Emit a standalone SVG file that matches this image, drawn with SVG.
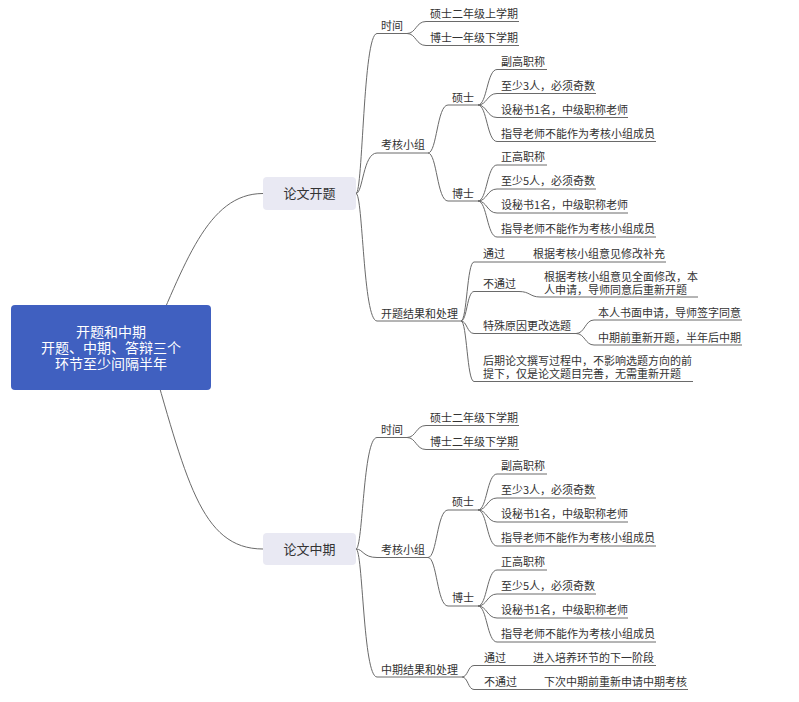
<svg xmlns="http://www.w3.org/2000/svg" width="799" height="702" viewBox="0 0 799 702">
<style>
text{font-family:"Noto Sans CJK SC","Noto Sans",sans-serif;fill:#333;font-size:11px}
.root{fill:#4060c0}
.rt{fill:#fff;font-size:14px;text-anchor:middle}
.box{fill:#e9e9f3}
.bt{font-size:13px;text-anchor:middle}
.ul,.c{stroke:#6a6a6a;stroke-width:1;fill:none}
</style>
<rect width="799" height="702" fill="#fff"/>
<g id="connectors" class="c">
<path d="M148,347.5 C185,264.5 207,193.5 263,193.5"/>
<path d="M148,347.5 C186,477.5 200,549 263,549"/>
<path d="M356,193.5 C363,193.5 363,33.5 377,33.5"/>
<path d="M356,193.5 C363,193.5 363,153 377,153"/>
<path d="M356,193.5 C363,193.5 363,321 377,321"/>
<path d="M407,33.5 C416,33.5 416,21.5 426,21.5"/>
<path d="M407,33.5 C416,33.5 416,45.5 426,45.5"/>
<path d="M428,153 C437,153 437,105 448,105"/>
<path d="M428,153 C437,153 437,201 448,201"/>
<path d="M478,105 C487,105 487,69.5 497,69.5"/>
<path d="M478,105 C487,105 487,93.5 497,93.5"/>
<path d="M478,105 C487,105 487,117.5 497,117.5"/>
<path d="M478,105 C487,105 487,141.5 497,141.5"/>
<path d="M478,201 C487,201 487,165 497,165"/>
<path d="M478,201 C487,201 487,189 497,189"/>
<path d="M478,201 C487,201 487,213 497,213"/>
<path d="M478,201 C487,201 487,237 497,237"/>
<path d="M461,321 C467,321 467,262 474,262"/>
<path d="M461,321 C467,321 467,291.5 474,291.5"/>
<path d="M461,321 C467,321 467,333.5 474,333.5"/>
<path d="M461,321 C467,321 467,381.5 474,381.5"/>
<path d="M508,262 L529,262"/>
<path d="M519,291.5 C530,291.5 530,297 540,297"/>
<path d="M576,333.5 C585,333.5 585,320 594,320"/>
<path d="M576,333.5 C585,333.5 585,345 594,345"/>
<path d="M356,549 C363,549 363,437.5 377,437.5"/>
<path d="M356,549 C363,549 363,557.5 377,557.5"/>
<path d="M356,549 C363,549 363,677 377,677"/>
<path d="M407,437.5 C416,437.5 416,425.5 426,425.5"/>
<path d="M407,437.5 C416,437.5 416,449.5 426,449.5"/>
<path d="M428,557.5 C437,557.5 437,510 448,510"/>
<path d="M428,557.5 C437,557.5 437,606 448,606"/>
<path d="M478,510 C487,510 487,474 497,474"/>
<path d="M478,510 C487,510 487,498 497,498"/>
<path d="M478,510 C487,510 487,522 497,522"/>
<path d="M478,510 C487,510 487,546 497,546"/>
<path d="M478,606 C487,606 487,570 497,570"/>
<path d="M478,606 C487,606 487,594 497,594"/>
<path d="M478,606 C487,606 487,618 497,618"/>
<path d="M478,606 C487,606 487,642 497,642"/>
<path d="M462,677 C468,677 468,665.5 474,665.5"/>
<path d="M462,677 C468,677 468,689.5 474,689.5"/>
<path d="M510,665.5 L529,665.5"/>
<path d="M520,689.5 L540,689.5"/>
</g>
<g id="root">
<rect class="root" x="11" y="305" width="200" height="85" rx="4"/>
<text class="rt" x="111" y="337">开题和中期<tspan x="111" dy="16">开题、中期、答辩三个</tspan><tspan x="111" dy="16">环节至少间隔半年</tspan></text>
</g>
<g id="kaiti">
<rect class="box" x="263" y="177" width="93" height="33" rx="4"/>
<text class="bt" x="309.5" y="198">论文开题</text>
</g>
<g id="kt-time"><text x="381" y="30">时间</text><line class="ul" x1="377" y1="33.5" x2="407" y2="33.5"/></g>
<g id="kt-time-1"><text x="430" y="17.5">硕士二年级上学期</text><line class="ul" x1="426" y1="21.5" x2="519" y2="21.5"/></g>
<g id="kt-time-2"><text x="430" y="41.5">博士一年级下学期</text><line class="ul" x1="426" y1="45.5" x2="519" y2="45.5"/></g>
<g id="kt-group"><text x="381" y="149">考核小组</text><line class="ul" x1="377" y1="153" x2="428" y2="153"/></g>
<g id="kt-ms"><text x="452" y="101.5">硕士</text><line class="ul" x1="448" y1="105" x2="478" y2="105"/></g>
<g id="kt-ms-1"><text x="501" y="65.5">副高职称</text><line class="ul" x1="497" y1="69.5" x2="547" y2="69.5"/></g>
<g id="kt-ms-2"><text x="501" y="89.5">至少3人，必须奇数</text><line class="ul" x1="497" y1="93.5" x2="596" y2="93.5"/></g>
<g id="kt-ms-3"><text x="501" y="113.5">设秘书1名，中级职称老师</text><line class="ul" x1="497" y1="117.5" x2="628" y2="117.5"/></g>
<g id="kt-ms-4"><text x="501" y="137.5">指导老师不能作为考核小组成员</text><line class="ul" x1="497" y1="141.5" x2="656" y2="141.5"/></g>
<g id="kt-phd"><text x="452" y="197.5">博士</text><line class="ul" x1="448" y1="201" x2="478" y2="201"/></g>
<g id="kt-phd-1"><text x="501" y="161">正高职称</text><line class="ul" x1="497" y1="165" x2="547" y2="165"/></g>
<g id="kt-phd-2"><text x="501" y="185">至少5人，必须奇数</text><line class="ul" x1="497" y1="189" x2="596" y2="189"/></g>
<g id="kt-phd-3"><text x="501" y="209">设秘书1名，中级职称老师</text><line class="ul" x1="497" y1="213" x2="628" y2="213"/></g>
<g id="kt-phd-4"><text x="501" y="233">指导老师不能作为考核小组成员</text><line class="ul" x1="497" y1="237" x2="656" y2="237"/></g>
<g id="kt-result"><text x="381" y="317.5">开题结果和处理</text><line class="ul" x1="377" y1="321" x2="461" y2="321"/></g>
<g id="kt-pass"><text x="483" y="258">通过</text><line class="ul" x1="474" y1="262" x2="508" y2="262"/></g>
<g id="kt-pass-1"><text x="533" y="258">根据考核小组意见修改补充</text><line class="ul" x1="529" y1="262" x2="666" y2="262"/></g>
<g id="kt-fail"><text x="483" y="287.5">不通过</text><line class="ul" x1="474" y1="291.5" x2="519" y2="291.5"/></g>
<g id="kt-fail-1"><text x="544" y="280.5">根据考核小组意见全面修改，本<tspan x="544" dy="13.5">人申请，导师同意后重新开题</tspan></text><line class="ul" x1="540" y1="297" x2="698" y2="297"/></g>
<g id="kt-change"><text x="483" y="329.5">特殊原因更改选题</text><line class="ul" x1="474" y1="333.5" x2="576" y2="333.5"/></g>
<g id="kt-change-1"><text x="598" y="316.5">本人书面申请，导师签字同意</text><line class="ul" x1="594" y1="320" x2="742" y2="320"/></g>
<g id="kt-change-2"><text x="598" y="341.5">中期前重新开题，半年后中期</text><line class="ul" x1="594" y1="345" x2="742" y2="345"/></g>
<g id="kt-later"><text x="483" y="364.5">后期论文撰写过程中，不影响选题方向的前<tspan x="483" dy="13.5">提下，仅是论文题目完善，无需重新开题</tspan></text><line class="ul" x1="474" y1="381.5" x2="693" y2="381.5"/></g>
<g id="zhongqi">
<rect class="box" x="263" y="533" width="93" height="32" rx="4"/>
<text class="bt" x="309.5" y="554">论文中期</text>
</g>
<g id="zq-time"><text x="381" y="433.5">时间</text><line class="ul" x1="377" y1="437.5" x2="407" y2="437.5"/></g>
<g id="zq-time-1"><text x="430" y="421.5">硕士二年级下学期</text><line class="ul" x1="426" y1="425.5" x2="519" y2="425.5"/></g>
<g id="zq-time-2"><text x="430" y="445.5">博士二年级下学期</text><line class="ul" x1="426" y1="449.5" x2="519" y2="449.5"/></g>
<g id="zq-group"><text x="381" y="554">考核小组</text><line class="ul" x1="377" y1="557.5" x2="428" y2="557.5"/></g>
<g id="zq-ms"><text x="452" y="506">硕士</text><line class="ul" x1="448" y1="510" x2="478" y2="510"/></g>
<g id="zq-ms-1"><text x="501" y="470">副高职称</text><line class="ul" x1="497" y1="474" x2="547" y2="474"/></g>
<g id="zq-ms-2"><text x="501" y="494">至少3人，必须奇数</text><line class="ul" x1="497" y1="498" x2="596" y2="498"/></g>
<g id="zq-ms-3"><text x="501" y="518">设秘书1名，中级职称老师</text><line class="ul" x1="497" y1="522" x2="628" y2="522"/></g>
<g id="zq-ms-4"><text x="501" y="542">指导老师不能作为考核小组成员</text><line class="ul" x1="497" y1="546" x2="656" y2="546"/></g>
<g id="zq-phd"><text x="452" y="602">博士</text><line class="ul" x1="448" y1="606" x2="478" y2="606"/></g>
<g id="zq-phd-1"><text x="501" y="566">正高职称</text><line class="ul" x1="497" y1="570" x2="547" y2="570"/></g>
<g id="zq-phd-2"><text x="501" y="590">至少5人，必须奇数</text><line class="ul" x1="497" y1="594" x2="596" y2="594"/></g>
<g id="zq-phd-3"><text x="501" y="614">设秘书1名，中级职称老师</text><line class="ul" x1="497" y1="618" x2="628" y2="618"/></g>
<g id="zq-phd-4"><text x="501" y="638">指导老师不能作为考核小组成员</text><line class="ul" x1="497" y1="642" x2="656" y2="642"/></g>
<g id="zq-result"><text x="381" y="673.5">中期结果和处理</text><line class="ul" x1="377" y1="677" x2="462" y2="677"/></g>
<g id="zq-pass"><text x="484" y="661.5">通过</text><line class="ul" x1="474" y1="665.5" x2="510" y2="665.5"/></g>
<g id="zq-pass-1"><text x="533" y="661.5">进入培养环节的下一阶段</text><line class="ul" x1="529" y1="665.5" x2="656" y2="665.5"/></g>
<g id="zq-fail"><text x="484" y="685.5">不通过</text><line class="ul" x1="474" y1="689.5" x2="520" y2="689.5"/></g>
<g id="zq-fail-1"><text x="544" y="685.5">下次中期前重新申请中期考核</text><line class="ul" x1="540" y1="689.5" x2="688" y2="689.5"/></g>
</svg>
